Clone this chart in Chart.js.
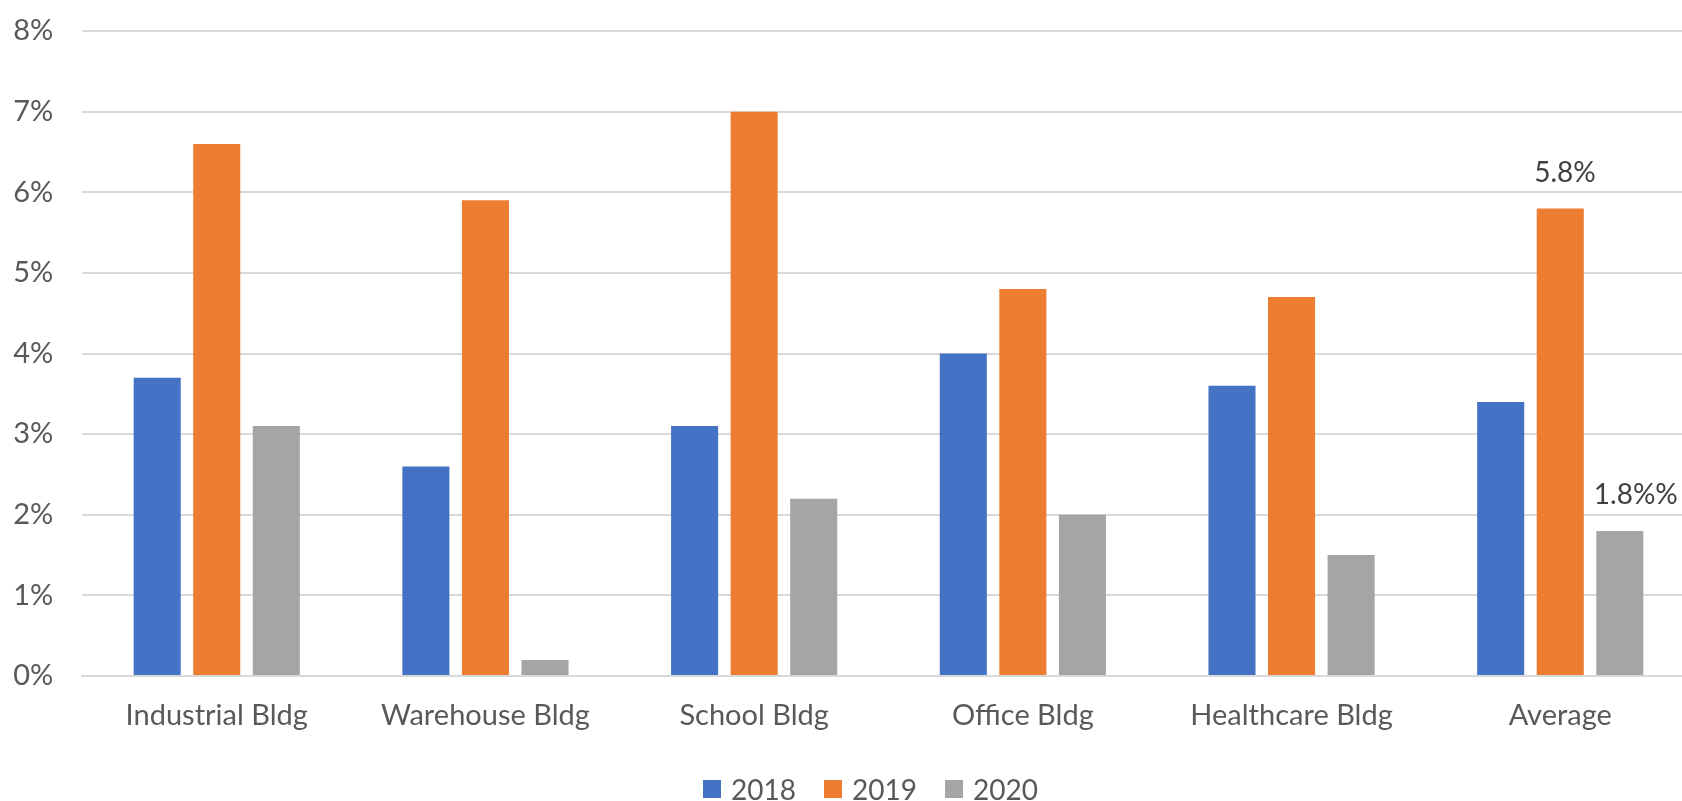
<!DOCTYPE html>
<html>
<head>
<meta charset="utf-8">
<script src="https://cdn.jsdelivr.net/npm/chart.js@4.4.0/dist/chart.umd.min.js"></script>
<style>
    html, body { margin: 0; padding: 0; background: #fff; overflow: hidden; width: 1682px; height: 801px; }
    #wrap { position: relative; width: 1682px; height: 801px; overflow: hidden; }
    #legend {
        position: absolute; left: 703px; top: 775px;
        display: flex; align-items: center;
        font-family: Lato, sans-serif; font-size: 28px; line-height: 28px; color: #595959;
    }
    #legend .item { display: flex; align-items: center; margin-right: 28px; }
    #legend .box { width: 18px; height: 18px; margin-right: 10px; }
</style>
</head>
<body>
<div id="wrap">
    <canvas id="chart-1" width="1700" height="801"></canvas>
    <div id="legend"></div>
</div>
<script>
const categories = ['Industrial Bldg', 'Warehouse Bldg', 'School Bldg', 'Office Bldg', 'Healthcare Bldg', 'Average'];
const years = ['2018', '2019', '2020'];
const values2018 = [3.7, 2.6, 3.1, 4.0, 3.6, 3.4];
const values2019 = [6.6, 5.9, 7.0, 4.8, 4.7, 5.8];
const values2020 = [3.1, 0.2, 2.2, 2.0, 1.5, 1.8];
const colors = ['#4472C4', '#ED7D31', '#A5A5A5'];
// only two bars carry a label in the original
const barLabels = [
    { series: 1, index: 5, text: '5.8%' },
    { series: 2, index: 5, text: '1.8%%' }
];

const textColor = '#595959';
const font = 'Lato';

const labelPlugin = {
    id: 'barLabels',
    afterDatasetsDraw(chart) {
        const ctx = chart.ctx;
        ctx.save();
        ctx.font = '28px ' + font;
        ctx.fillStyle = '#404040';
        ctx.textAlign = 'left';
        ctx.textBaseline = 'alphabetic';
        barLabels.forEach(l => {
            const bar = chart.getDatasetMeta(l.series).data[l.index];
            ctx.fillText(l.text, bar.x - 26, bar.y - 26.5);
        });
        ctx.restore();
    }
};

const ctx = document.getElementById('chart-1').getContext('2d');
const chart_1 = new Chart(ctx, {
    type: 'bar',
    data: {
        labels: categories,
        datasets: [values2018, values2019, values2020].map((vals, i) => ({
            label: years[i],
            data: vals,
            backgroundColor: colors[i],
            borderWidth: 0,
            categoryPercentage: 0.665,
            barPercentage: 0.79
        }))
    },
    options: {
        responsive: false,
        animation: false,
        devicePixelRatio: 1,
        layout: {
            padding: { top: 31, right: 5.4, bottom: 0, left: 13.3 }
        },
        scales: {
            x: {
                grid: { display: false, drawTicks: false },
                border: { display: true, color: '#D9D9D9', width: 2 },
                ticks: {
                    color: textColor,
                    font: { family: font, size: 29 },
                    padding: 22,
                    maxRotation: 0
                },
                afterFit: axis => { axis.height = 125; }
            },
            y: {
                min: 0,
                max: 8,
                grid: { color: '#D9D9D9', lineWidth: 2, drawTicks: false },
                border: { display: false },
                ticks: {
                    stepSize: 1,
                    color: textColor,
                    font: { family: font, size: 29 },
                    padding: 0,
                    crossAlign: 'far',
                    callback: v => v + '%'
                },
                afterFit: axis => { axis.width = 69.1; }
            }
        },
        plugins: {
            legend: { display: false },
            tooltip: { enabled: false }
        }
    },
    plugins: [labelPlugin]
});

// legend drawn as html so it can sit where the original one is
const legend = document.getElementById('legend');
chart_1.data.datasets.forEach(ds => {
    const item = document.createElement('div');
    item.className = 'item';
    item.innerHTML = '<span class="box" style="background:' + ds.backgroundColor + '"></span><span>' + ds.label + '</span>';
    legend.appendChild(item);
});
</script>
</body>
</html>
